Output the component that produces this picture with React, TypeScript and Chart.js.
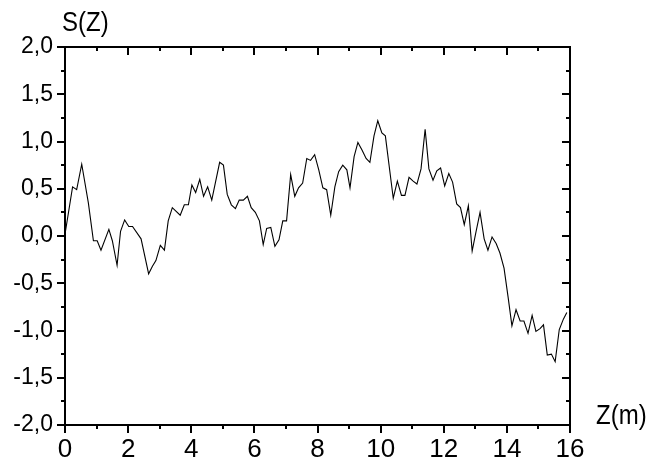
import { useEffect, useRef } from "react";
import { Chart, registerables } from "chart.js";

Chart.register(...registerables);

const zValues = [
  0.0, 0.24, 0.37, 0.53, 0.74, 0.9, 1.02, 1.14, 1.39, 1.5, 1.65, 1.76, 1.89, 2.02, 2.14, 2.41,
  2.65, 2.77, 2.88, 3.02, 3.15, 3.27, 3.4, 3.65, 3.78, 3.91, 4.02, 4.14, 4.27, 4.39, 4.52, 4.65,
  4.9, 5.02, 5.14, 5.27, 5.4, 5.52, 5.65, 5.78, 5.9, 6.03, 6.16, 6.28, 6.39, 6.52, 6.65, 6.78,
  6.9, 7.02, 7.15, 7.28, 7.4, 7.53, 7.66, 7.78, 7.91, 8.04, 8.17, 8.29, 8.42, 8.55, 8.67, 8.8,
  8.93, 9.03, 9.16, 9.28, 9.41, 9.54, 9.66, 9.79, 9.91, 10.04, 10.15, 10.4, 10.53, 10.66, 10.77,
  10.9, 11.03, 11.15, 11.28, 11.41, 11.53, 11.66, 11.78, 11.9, 12.03, 12.16, 12.28, 12.41, 12.53,
  12.65, 12.78, 12.9, 13.02, 13.15, 13.28, 13.4, 13.53, 13.66, 13.78, 13.91, 14.04, 14.16, 14.29,
  14.42, 14.54, 14.67, 14.8, 14.92, 15.05, 15.16, 15.28, 15.41, 15.53, 15.66, 15.79, 15.9,
];

const sValues = [
  0.02, 0.52, 0.49, 0.76, 0.35, -0.05, -0.05, -0.15, 0.07, -0.05, -0.31, 0.05, 0.17, 0.1, 0.1, -0.03,
  -0.4, -0.32, -0.26, -0.1, -0.15, 0.16, 0.3, 0.22, 0.33, 0.33, 0.54, 0.46, 0.6, 0.42, 0.52, 0.38,
  0.78, 0.75, 0.44, 0.33, 0.29, 0.38, 0.38, 0.42, 0.3, 0.25, 0.16, -0.09, 0.08, 0.09, -0.11, -0.04,
  0.16, 0.16, 0.65, 0.42, 0.51, 0.56, 0.82, 0.8, 0.86, 0.7, 0.51, 0.49, 0.22, 0.52, 0.68, 0.75,
  0.7, 0.51, 0.84, 0.99, 0.91, 0.82, 0.78, 1.06, 1.22, 1.09, 1.06, 0.4, 0.58, 0.43, 0.43,
  0.62, 0.58, 0.55, 0.71, 1.13, 0.71, 0.59, 0.69, 0.72, 0.53, 0.66, 0.57, 0.34, 0.3,
  0.12, 0.32, -0.16, 0.04, 0.25, -0.03, -0.15, -0.01, -0.08, -0.18, -0.34, -0.65, -0.95, -0.78,
  -0.9, -0.9, -1.03, -0.84, -1.01, -0.98, -0.94, -1.26, -1.25, -1.33, -0.99, -0.88, -0.81,
];

const xMajorTicks = [0, 2, 4, 6, 8, 10, 12, 14, 16];
const xMinorTicks = [1, 3, 5, 7, 9, 11, 13, 15];
const yMajorTicks = [-2, -1.5, -1, -0.5, 0, 0.5, 1, 1.5, 2];
const yMinorTicks = [-1.75, -1.25, -0.75, -0.25, 0.25, 0.75, 1.25, 1.75];
const xTitle = "Z(m)";
const yTitle = "S(Z)";

const FONT = '"Liberation Sans", Arial, sans-serif';

const framePlugin = {
  id: "frame",
  afterDraw(chart: any) {
    const { ctx, chartArea: a, scales } = chart;
    const xs = scales.x;
    const ys = scales.y;
    ctx.save();
    ctx.strokeStyle = "#000";
    ctx.lineWidth = 2;
    ctx.strokeRect(a.left, a.top, a.right - a.left, a.bottom - a.top);
    const seg = (x1: number, y1: number, x2: number, y2: number) => {
      ctx.beginPath();
      ctx.moveTo(x1, y1);
      ctx.lineTo(x2, y2);
      ctx.stroke();
    };
    const major = 8;
    const minor = 4;
    xMajorTicks.forEach((v) => {
      const px = Math.round(xs.getPixelForValue(v));
      seg(px, a.bottom, px, a.bottom + major);
      seg(px, a.top, px, a.top + major);
    });
    xMinorTicks.forEach((v) => {
      const px = Math.round(xs.getPixelForValue(v));
      seg(px, a.bottom, px, a.bottom + minor);
      seg(px, a.top, px, a.top + minor);
    });
    yMajorTicks.forEach((v) => {
      const py = Math.round(ys.getPixelForValue(v));
      seg(a.left - major, py, a.left, py);
      seg(a.right - major, py, a.right, py);
    });
    yMinorTicks.forEach((v) => {
      const py = Math.round(ys.getPixelForValue(v));
      seg(a.left - minor, py, a.left, py);
      seg(a.right - minor, py, a.right, py);
    });
    ctx.fillStyle = "#000";
    ctx.font = `24px ${FONT}`;
    ctx.textBaseline = "middle";
    ctx.textAlign = "left";
    const drawTall = (text: string, x: number, y: number) => {
      ctx.save();
      ctx.translate(x, y);
      ctx.scale(1, 1.15);
      ctx.fillText(text, 0, 0);
      ctx.restore();
    };
    drawTall(yTitle, 62, 23);
    drawTall(xTitle, 596, 416);
    ctx.restore();
  },
};

export default function App() {
  const ref = useRef<HTMLCanvasElement | null>(null);

  useEffect(() => {
    document.body.style.margin = "0";
    const canvas = ref.current;
    if (!canvas) return;
    const points = zValues.map((z, i) => ({ x: z, y: sValues[i] }));
    const chart = new Chart(canvas, {
      type: "line",
      data: {
        datasets: [
          {
            data: points,
            borderColor: "#000",
            borderWidth: 1.1,
            pointRadius: 0,
            tension: 0,
            fill: false,
          },
        ],
      },
      options: {
        animation: false,
        responsive: false,
        devicePixelRatio: 1,
        layout: { padding: { top: 47, right: 78, left: 0, bottom: 0 } },
        plugins: { legend: { display: false }, tooltip: { enabled: false } },
        scales: {
          x: {
            type: "linear",
            min: 0,
            max: 16,
            grid: { display: false, drawTicks: false },
            border: { display: false },
            afterBuildTicks: (scale: any) => {
              scale.ticks = xMajorTicks.map((v) => ({ value: v }));
            },
            afterFit: (scale: any) => {
              scale.height = 41;
            },
            ticks: {
              color: "#000",
              font: { family: FONT, size: 26 },
              padding: 9,
              maxRotation: 0,
              autoSkip: false,
              callback: (v: any) => String(v),
            },
          },
          y: {
            type: "linear",
            min: -2,
            max: 2,
            grid: { display: false, drawTicks: false },
            border: { display: false },
            afterBuildTicks: (scale: any) => {
              scale.ticks = yMajorTicks.map((v) => ({ value: v }));
            },
            afterFit: (scale: any) => {
              scale.width = 65;
            },
            ticks: {
              color: "#000",
              font: { family: FONT, size: 23 },
              padding: 12,
              autoSkip: false,
              callback: (v: any) => Number(v).toFixed(1).replace(".", ","),
            },
          },
        },
      },
      plugins: [framePlugin],
    });
    return () => chart.destroy();
  }, []);

  return (
    <div style={{ position: "absolute", left: 0, top: 0, width: 648, height: 466 }}>
      <canvas ref={ref} width={648} height={466} />
    </div>
  );
}
